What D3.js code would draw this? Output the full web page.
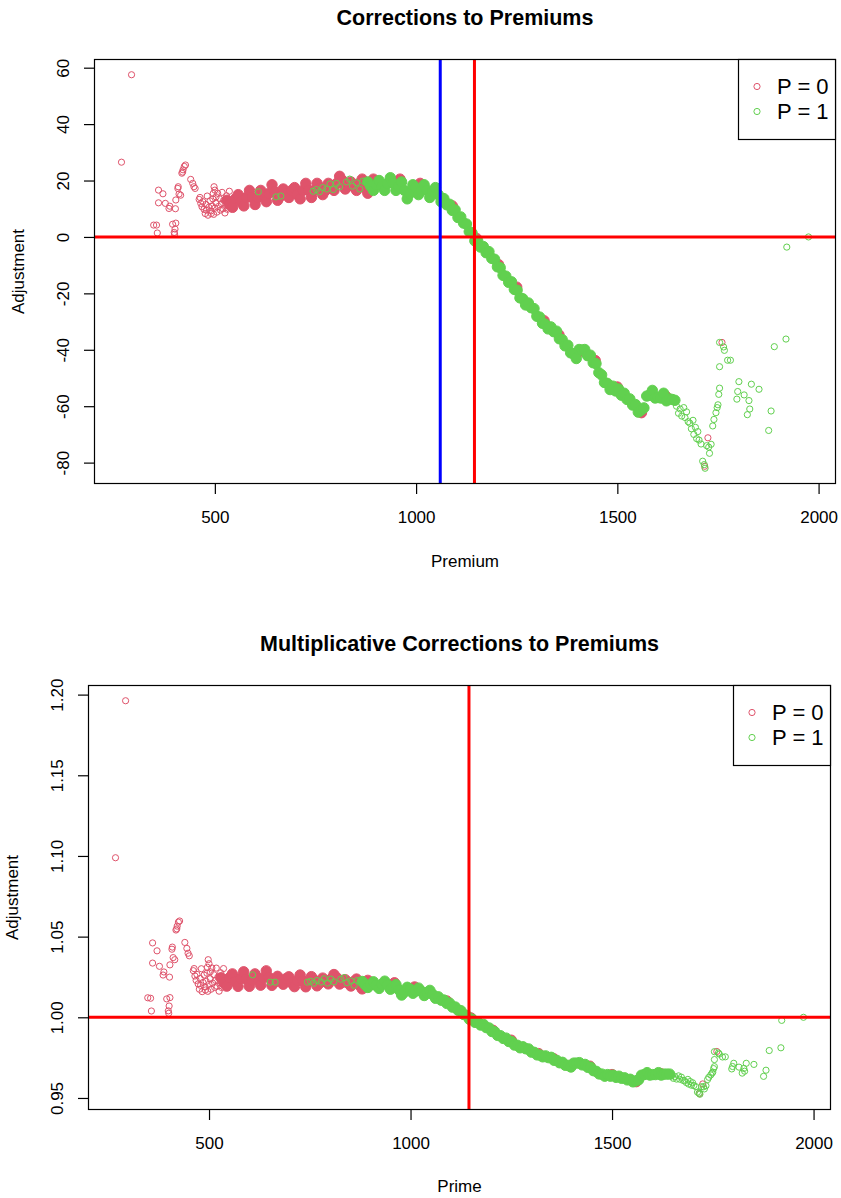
<!DOCTYPE html>
<html><head><meta charset="utf-8">
<script src="https://cdn.jsdelivr.net/npm/d3@7"></script>
<style>
body{margin:0;background:#fff}
svg{display:block}
text{font-family:"Liberation Sans",Arial,Helvetica,sans-serif;fill:#000}
</style>
</head><body>
<svg id="c" width="841" height="1198"></svg>
<script>
// ---------------- DATA ----------------
// Dense band of P = 0 policies (premium, additive adjustment, multiplicative adjustment)
const premiumCoreP0 = [530,537,544,551,558,565,572,579,586,593,600,607,614,621,628,635,642,649,656,663,670,677,684,691,698,705,712,719,726,733,740,747,754,761,768,775,782,789,796,803,810,817,824,831,838,845,852,859,866,873,880,887,894,901,960,1010,1090,1150,1205,1250,1318,1355,1402,1445,1500,1560,1620];
const adjCoreP0 = [13.0,11.5,10.5,13.5,15.0,12.5,11.0,14.0,16.5,14.0,11.5,14.0,16.5,15.0,12.5,15.5,18.5,16.0,13.0,14.5,17.0,15.5,14.0,16.5,17.5,15.0,13.5,16.5,19.0,16.5,14.0,16.5,19.0,17.5,15.0,16.5,19.0,17.5,16.5,19.0,21.5,20.0,17.0,18.0,19.5,18.0,16.5,19.0,20.5,17.5,15.5,18.0,20.5,18.5,20.5,19.0,11.0,-0.5,-9.8,-17.8,-29.7,-34.7,-41.0,-43.8,-53.2,-62.3,-56.4];
const multCoreP0 = [1.0245,1.0214,1.0193,1.0245,1.0269,1.0221,1.0192,1.0242,1.0282,1.0236,1.0192,1.0231,1.0269,1.0242,1.0199,1.0244,1.0288,1.0247,1.0198,1.0219,1.0254,1.0229,1.0205,1.0239,1.0251,1.0213,1.0190,1.0229,1.0262,1.0225,1.0189,1.0221,1.0252,1.0230,1.0195,1.0213,1.0243,1.0222,1.0207,1.0237,1.0265,1.0245,1.0206,1.0217,1.0233,1.0213,1.0194,1.0221,1.0237,1.0200,1.0176,1.0203,1.0229,1.0205,1.0214,1.0188,1.0101,0.9996,0.9919,0.9858,0.9775,0.9744,0.9708,0.9697,0.9645,0.9601,0.9652];

// Dense band of P = 1 policies
const premiumCoreP1 = [880,887,894,901,908,915,922,929,936,943,950,957,964,971,978,985,992,999,1006,1013,1020,1027,1034,1041,1048,1055,1062,1069,1076,1083,1090,1097,1104,1111,1118,1125,1132,1139,1146,1153,1160,1167,1174,1181,1188,1195,1202,1209,1216,1223,1230,1237,1244,1251,1258,1265,1272,1279,1286,1293,1300,1307,1314,1321,1328,1335,1342,1349,1356,1363,1370,1377,1384,1391,1398,1405,1412,1419,1426,1433,1440,1447,1454,1461,1468,1475,1482,1489,1496,1503,1510,1517,1524,1531,1538,1545,1552,1559,1566,1573,1580,1587,1594,1601,1608,1615,1622,1629,1636,1643];
const adjCoreP1 = [19.5,18.0,16.5,18.5,20.0,18.0,16.5,19.0,21.0,19.0,16.5,18.0,19.5,16.5,13.5,15.5,18.5,17.5,15.0,16.5,18.5,16.5,14.0,16.0,17.5,15.0,12.5,
  13.6,11.4,11.6,9.4,9.6,6.9,7.1,4.9,4.6,1.9,
  1.4,-1.4,-1.4,-3.6,-3.4,-5.6,-5.2,-7.6,-7.9,-10.6,
  -10.9,-13.6,-13.9,-16.1,-15.9,-18.6,-18.9,-21.6,-21.9,-24.1,
  -23.4,-25.1,-25.4,-28.1,-28.4,-30.6,-30.9,-32.6,-31.9,-33.6,
  -33.4,-36.1,-36.4,-38.6,-38.4,-41.1,-41.4,-43.1,-39.9,-40.1,
  -39.9,-42.1,-41.9,-44.6,-44.9,-48.1,-48.9,-51.6,-51.9,-54.1,
  -52.9,-54.6,-53.9,-56.1,-55.4,-57.6,-57.4,-59.6,-59.4,-62.1,
  -61.4,-60.6,-56.4,-56.1,-54.4,-57.1,-56.9,-57.1,-55.4,-58.1,
  -57.4,-57.6,-57.9];
const multCoreP1 = [1.0222,1.0203,1.0185,1.0205,1.0220,1.0197,1.0179,1.0205,1.0224,1.0201,1.0174,1.0188,1.0202,1.0170,1.0138,1.0157,1.0186,1.0175,1.0149,1.0163,1.0181,1.0161,1.0135,1.0154,1.0167,1.0142,1.0118,
  1.0127,1.0106,1.0107,1.0086,1.0088,1.0063,1.0064,1.0044,1.0041,1.0017,
  1.0012,0.9988,0.9988,0.9969,0.9971,0.9952,0.9956,0.9936,0.9934,0.9912,
  0.9910,0.9888,0.9886,0.9869,0.9871,0.9850,0.9849,0.9828,0.9827,0.9811,
  0.9817,0.9805,0.9804,0.9784,0.9783,0.9767,0.9766,0.9755,0.9761,0.9750,
  0.9752,0.9734,0.9733,0.9718,0.9721,0.9703,0.9702,0.9692,0.9716,0.9716,
  0.9719,0.9705,0.9708,0.9690,0.9690,0.9669,0.9665,0.9649,0.9648,0.9635,
  0.9645,0.9635,0.9641,0.9628,0.9635,0.9622,0.9625,0.9612,0.9616,0.9600,
  0.9606,0.9613,0.9641,0.9645,0.9657,0.9642,0.9645,0.9645,0.9657,0.9642,
  0.9648,0.9648,0.9648];

// Isolated P = 0 policies
const premiumSparseP0 = [268,293,348,355,357,360,360,371,377,386,388,395,399,400,401,403,402,403,408,409,411,415,418,421,424,427,420,440,445,448,451,461,463,465,468,476,479,483,491,498,500,496,503,470,473,478,481,485,488,490,493,495,497,500,503,505,507,509,512,514,516,518,520,522,525,527,529,531,534,536,1717,1725,1760];
const adjSparseP0 = [26.5,57.5,4.2,4.2,1.4,16.6,12.1,15.3,11.9,10.1,10.9,4.5,1.6,1.0,2.8,4.9,10.0,13.1,17.2,17.8,15.2,14.8,22.6,23.8,25.0,25.5,23.0,20.4,19.0,17.8,17.2,13.3,14.0,11.9,10.7,8.3,9.5,7.7,8.3,17.8,16.6,15.4,14.2,12.5,9.8,11.5,14.5,10.5,12.8,9.2,11.0,13.5,8.0,10.2,12.0,8.8,15.5,10.8,13.5,9.5,11.8,15.8,10.0,13.0,8.5,11.2,14.6,9.8,12.4,16.2,-81.3,-71.2,-37.4];
const multSparseP0 = [1.0989,1.1962,1.0121,1.0118,1.0039,1.0461,1.0336,1.0412,1.0316,1.0262,1.0281,1.0114,1.0040,1.0025,1.0070,1.0122,1.0249,1.0325,1.0422,1.0435,1.0370,1.0357,1.0541,1.0565,1.0590,1.0597,1.0548,1.0464,1.0427,1.0397,1.0381,1.0289,1.0302,1.0256,1.0229,1.0174,1.0198,1.0159,1.0169,1.0357,1.0332,1.0310,1.0282,1.0266,1.0207,1.0241,1.0301,1.0216,1.0262,1.0188,1.0223,1.0273,1.0161,1.0204,1.0239,1.0174,1.0306,1.0212,1.0264,1.0185,1.0229,1.0305,1.0192,1.0249,1.0162,1.0213,1.0276,1.0185,1.0232,1.0302,0.9527,0.9587,0.9788];

// Isolated P = 1 policies
const premiumSparseP1 = [608,652,664,744,752,760,768,778,786,794,802,810,827,835,842,852,860,868,1647,1652,1656,1660,1665,1668,1672,1676,1680,1684,1688,1690,1694,1697,1700,1703,1708,1712,1716,1718,1722,1727,1729,1733,1737,1740,1745,1748,1750,1752,1754,1754,1754,1764,1766,1774,1781,1799,1797,1802,1815,1823,1827,1829,1833,1852,1876,1882,1890,1919,1921,1975];
const adjSparseP1 = [16.0,14.2,14.5,16.2,16.8,16.0,17.5,17.0,18.8,16.8,19.0,17.8,19.5,20.5,18.0,19.2,17.0,19.8,-60.0,-62.5,-61.0,-63.5,-60.5,-64.0,-62.0,-65.5,-66.0,-68.0,-65.0,-70.0,-67.5,-71.5,-69.0,-72.0,-73.4,-79.5,-80.7,-82.0,-74.0,-74.5,-76.7,-73.5,-67.0,-64.7,-62.3,-60.5,-59.5,-55.8,-53.6,-46.0,-37.4,-39.0,-40.2,-43.7,-43.7,-54.8,-57.5,-51.3,-56.0,-63.0,-58.0,-61.0,-52.2,-54.0,-68.6,-61.7,-38.9,-36.2,-3.6,0.0];
const multSparseP1 = [1.0263,1.0218,1.0218,1.0218,1.0223,1.0211,1.0228,1.0219,1.0239,1.0212,1.0237,1.0220,1.0236,1.0246,1.0214,1.0225,1.0198,1.0228,0.9636,0.9622,0.9632,0.9617,0.9637,0.9616,0.9629,0.9609,0.9607,0.9596,0.9615,0.9586,0.9602,0.9579,0.9594,0.9577,0.9570,0.9536,0.9530,0.9523,0.9570,0.9569,0.9556,0.9576,0.9614,0.9628,0.9643,0.9654,0.9660,0.9682,0.9694,0.9738,0.9787,0.9779,0.9772,0.9754,0.9755,0.9695,0.9680,0.9715,0.9691,0.9654,0.9683,0.9666,0.9715,0.9708,0.9634,0.9672,0.9794,0.9811,0.9981,1.0000];

// Ticks, labels, reference values
const premiumTicks = [500,1000,1500,2000];
const adjTicks = [-80,-60,-40,-20,0,20,40,60];
const multTicks = [0.95,1.00,1.05,1.10,1.15,1.20];
const legendLabels = ["P = 0","P = 1"];
const groupColors = ["#DF536B","#61D04F"];
const blueCut = 1060;     // blue vertical reference (premium)
const redCut = 1145;      // red vertical reference (premium)
const adjRef = 0;         // horizontal reference, additive
const multRef = 1;        // horizontal reference, multiplicative

// ---------------- DRAW ----------------
const svg = d3.select("#c");

function panel(o){
  const g = svg.append("g");
  const allX = [...o.x0c,...o.x1c,...o.x0s,...o.x1s];
  const allY = [...o.y0c,...o.y1c,...o.y0s,...o.y1s];
  const [xmin,xmax] = d3.extent(allX), [ymin,ymax] = d3.extent(allY);
  const px = (xmax-xmin)*0.04, py = (ymax-ymin)*0.04;
  const x = d3.scaleLinear().domain([xmin-px,xmax+px]).range([o.left,o.right]);
  const y = d3.scaleLinear().domain([ymin-py,ymax+py]).range([o.bottom,o.top]);

  function pts(xs, ys, color, filled){
    g.append("g").selectAll("circle").data(d3.zip(xs,ys)).join("circle")
      .attr("cx", d=>x(d[0])).attr("cy", d=>y(d[1]))
      .attr("r", filled ? 5.2 : 3.1)
      .attr("fill", filled ? color : "none")
      .attr("stroke", color).attr("stroke-width", 1);
  }
  pts(o.x0c, o.y0c, groupColors[0], true);
  pts(o.x1c, o.y1c, groupColors[1], true);
  pts(o.x0s, o.y0s, groupColors[0], false);
  pts(o.x1s, o.y1s, groupColors[1], false);

  // reference lines
  g.append("line").attr("x1",o.left).attr("x2",o.right)
    .attr("y1",y(o.href)).attr("y2",y(o.href))
    .attr("stroke","#FF0000").attr("stroke-width",3);
  o.vrefs.forEach(v=>{
    g.append("line").attr("x1",x(v.v)).attr("x2",x(v.v))
      .attr("y1",o.top).attr("y2",o.bottom)
      .attr("stroke",v.c).attr("stroke-width",3);
  });

  // box
  g.append("rect").attr("x",o.left+0.5).attr("y",o.top+0.5)
    .attr("width",o.right-o.left-1).attr("height",o.bottom-o.top-1)
    .attr("fill","none").attr("stroke","#000").attr("stroke-width",1.2);

  // x axis
  const ax = g.append("g").attr("transform",`translate(0,${o.bottom})`)
    .call(d3.axisBottom(x).tickValues(premiumTicks).tickSize(10).tickPadding(17).tickFormat(d=>String(d)));
  ax.select(".domain").remove();
  ax.selectAll("line").attr("stroke","#000").attr("stroke-width",1.2);
  ax.selectAll("text").attr("font-size",17).attr("fill","#000")
    .style("font-family",'"Liberation Sans",Arial,sans-serif');

  // y axis
  const ay = g.append("g").attr("transform",`translate(${o.left},0)`)
    .call(d3.axisLeft(y).tickValues(o.yticks).tickSize(10).tickFormat(o.yfmt));
  ay.select(".domain").remove();
  ay.selectAll("line").attr("stroke","#000").attr("stroke-width",1.2);
  ay.selectAll("text").attr("font-size",17).attr("fill","#000")
    .style("font-family",'"Liberation Sans",Arial,sans-serif')
    .attr("x",0).attr("dy",null).attr("text-anchor","middle")
    .attr("transform","translate(-25,0) rotate(-90)");

  // titles
  g.append("text").attr("x",(o.left+o.right)/2).attr("y",o.top-34)
    .attr("text-anchor","middle").attr("font-size",21.5).attr("font-weight","bold")
    .text(o.title);
  g.append("text").attr("x",(o.left+o.right)/2).attr("y",o.xlabY)
    .attr("text-anchor","middle").attr("font-size",17).text(o.xlab);
  g.append("text").attr("transform",`translate(${o.ylabX},${(o.top+o.bottom)/2}) rotate(-90)`)
    .attr("text-anchor","middle").attr("font-size",17).text(o.ylab);

  // legend
  const lw = 98, lh = 80;
  const lg = g.append("g").attr("transform",`translate(${o.right-lw},${o.top})`);
  lg.append("rect").attr("x",0.5).attr("y",0.5).attr("width",lw-1).attr("height",lh)
    .attr("fill","#fff").attr("stroke","#000").attr("stroke-width",1.2);
  legendLabels.forEach((lab,i)=>{
    const yy = 27.5 + i*25;
    lg.append("circle").attr("cx",19).attr("cy",yy).attr("r",3.1)
      .attr("fill","none").attr("stroke",groupColors[i]).attr("stroke-width",1);
    lg.append("text").attr("x",39).attr("y",yy).attr("dy","0.36em")
      .attr("font-size",22).text(lab);
  });
}

panel({
  left:94, right:836, top:59, bottom:484,
  x0c:premiumCoreP0, y0c:adjCoreP0, x1c:premiumCoreP1, y1c:adjCoreP1,
  x0s:premiumSparseP0, y0s:adjSparseP0, x1s:premiumSparseP1, y1s:adjSparseP1,
  href:adjRef, vrefs:[{v:blueCut,c:"#0000FF"},{v:redCut,c:"#FF0000"}],
  yticks:adjTicks, yfmt:d=>String(d),
  title:"Corrections to Premiums", xlab:"Premium", ylab:"Adjustment",
  xlabY:567, ylabX:24
});

panel({
  left:88, right:831, top:685, bottom:1110,
  x0c:premiumCoreP0, y0c:multCoreP0, x1c:premiumCoreP1, y1c:multCoreP1,
  x0s:premiumSparseP0, y0s:multSparseP0, x1s:premiumSparseP1, y1s:multSparseP1,
  href:multRef, vrefs:[{v:redCut,c:"#FF0000"}],
  yticks:multTicks, yfmt:d3.format(".2f"),
  title:"Multiplicative Corrections to Premiums", xlab:"Prime", ylab:"Adjustment",
  xlabY:1192, ylabX:18
});
</script>
</body></html>
